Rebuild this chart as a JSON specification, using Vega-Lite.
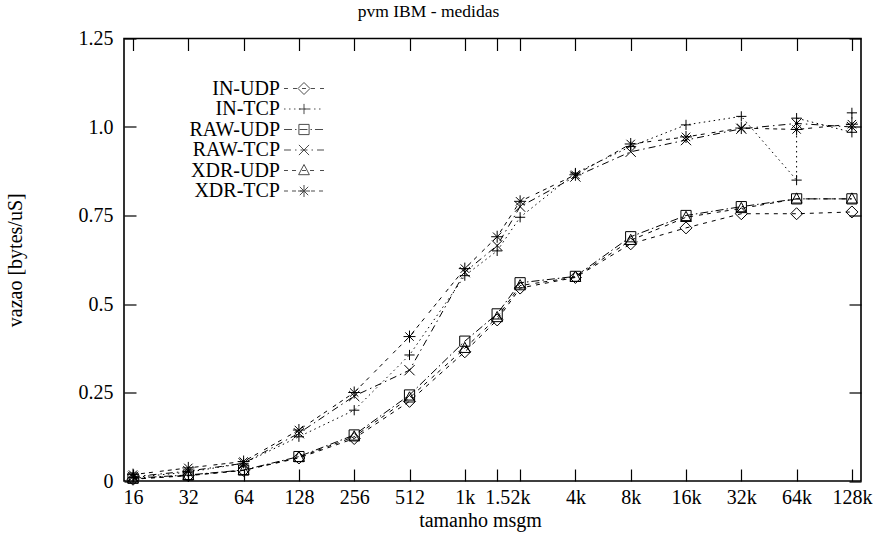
{
  "$schema": "https://vega.github.io/schema/vega-lite/v6.json",
  "width": 737,
  "height": 442.5,
  "autosize": {"type": "none"},
  "padding": {"left": 124, "top": 38.5, "right": 16, "bottom": 61},
  "background": "white",
  "config": {
    "view": {"stroke": "black", "strokeWidth": 1.6},
    "font": "Liberation Serif",
    "axis": {
      "labelFont": "Liberation Serif", "labelFontSize": 20, "labelColor": "black",
      "titleFont": "Liberation Serif", "titleFontSize": 20, "titleFontWeight": "normal", "titleColor": "black",
      "domain": false, "tickColor": "black", "tickWidth": 1.2, "tickSize": 12, "offset": -12,
      "grid": false, "labelOverlap": false, "labelFlush": false, "labelBound": false
    },
    "legend": {
      "labelFont": "Liberation Serif", "labelFontSize": 20, "labelColor": "black",
      "symbolStrokeColor": "black", "symbolFillColor": "transparent", "symbolStrokeWidth": 1, "symbolSize": 144
    }
  },
  "title": {"text": "pvm IBM - medidas", "font": "Liberation Serif", "fontSize": 17.5, "fontWeight": "normal", "color": "black", "dx": -64, "dy": 16, "offset": 10, "baseline": "alphabetic"},
  "data": {"values": [
    {"s": "IN-UDP", "i": 1, "x": 16, "y": 0.005}, {"s": "IN-UDP", "i": 2, "x": 32, "y": 0.015}, {"s": "IN-UDP", "i": 3, "x": 64, "y": 0.03}, {"s": "IN-UDP", "i": 4, "x": 128, "y": 0.065}, {"s": "IN-UDP", "i": 5, "x": 256, "y": 0.12}, {"s": "IN-UDP", "i": 6, "x": 512, "y": 0.225}, {"s": "IN-UDP", "i": 7, "x": 1024, "y": 0.365}, {"s": "IN-UDP", "i": 8, "x": 1536, "y": 0.455}, {"s": "IN-UDP", "i": 9, "x": 2048, "y": 0.545}, {"s": "IN-UDP", "i": 10, "x": 4096, "y": 0.575}, {"s": "IN-UDP", "i": 11, "x": 8192, "y": 0.67}, {"s": "IN-UDP", "i": 12, "x": 16384, "y": 0.715}, {"s": "IN-UDP", "i": 13, "x": 32768, "y": 0.755}, {"s": "IN-UDP", "i": 14, "x": 65536, "y": 0.755}, {"s": "IN-UDP", "i": 15, "x": 131072, "y": 0.76},
    {"s": "IN-TCP", "i": 1, "x": 16, "y": 0.01}, {"s": "IN-TCP", "i": 2, "x": 32, "y": 0.025}, {"s": "IN-TCP", "i": 3, "x": 64, "y": 0.05}, {"s": "IN-TCP", "i": 4, "x": 128, "y": 0.125}, {"s": "IN-TCP", "i": 5, "x": 256, "y": 0.2}, {"s": "IN-TCP", "i": 6, "x": 512, "y": 0.356}, {"s": "IN-TCP", "i": 7, "x": 1024, "y": 0.58}, {"s": "IN-TCP", "i": 8, "x": 1536, "y": 0.65}, {"s": "IN-TCP", "i": 9, "x": 2048, "y": 0.745}, {"s": "IN-TCP", "i": 10, "x": 4096, "y": 0.87}, {"s": "IN-TCP", "i": 11, "x": 8192, "y": 0.945}, {"s": "IN-TCP", "i": 12, "x": 16384, "y": 1.006}, {"s": "IN-TCP", "i": 13, "x": 32768, "y": 1.03}, {"s": "IN-TCP", "i": 14, "x": 65536, "y": 0.85}, {"s": "IN-TCP", "i": 15, "x": 65536, "y": 1.025}, {"s": "IN-TCP", "i": 16, "x": 131072, "y": 0.985}, {"s": "IN-TCP", "i": 17, "x": 131072, "y": 1.04},
    {"s": "RAW-UDP", "i": 1, "x": 16, "y": 0.008}, {"s": "RAW-UDP", "i": 2, "x": 32, "y": 0.017}, {"s": "RAW-UDP", "i": 3, "x": 64, "y": 0.031}, {"s": "RAW-UDP", "i": 4, "x": 128, "y": 0.069}, {"s": "RAW-UDP", "i": 5, "x": 256, "y": 0.13}, {"s": "RAW-UDP", "i": 6, "x": 512, "y": 0.243}, {"s": "RAW-UDP", "i": 7, "x": 1024, "y": 0.395}, {"s": "RAW-UDP", "i": 8, "x": 1536, "y": 0.472}, {"s": "RAW-UDP", "i": 9, "x": 2048, "y": 0.56}, {"s": "RAW-UDP", "i": 10, "x": 4096, "y": 0.578}, {"s": "RAW-UDP", "i": 11, "x": 8192, "y": 0.69}, {"s": "RAW-UDP", "i": 12, "x": 16384, "y": 0.75}, {"s": "RAW-UDP", "i": 13, "x": 32768, "y": 0.775}, {"s": "RAW-UDP", "i": 14, "x": 65536, "y": 0.797}, {"s": "RAW-UDP", "i": 15, "x": 131072, "y": 0.797},
    {"s": "RAW-TCP", "i": 1, "x": 16, "y": 0.012}, {"s": "RAW-TCP", "i": 2, "x": 32, "y": 0.028}, {"s": "RAW-TCP", "i": 3, "x": 64, "y": 0.05}, {"s": "RAW-TCP", "i": 4, "x": 128, "y": 0.135}, {"s": "RAW-TCP", "i": 5, "x": 256, "y": 0.24}, {"s": "RAW-TCP", "i": 6, "x": 512, "y": 0.313}, {"s": "RAW-TCP", "i": 7, "x": 1024, "y": 0.59}, {"s": "RAW-TCP", "i": 8, "x": 1536, "y": 0.665}, {"s": "RAW-TCP", "i": 9, "x": 2048, "y": 0.775}, {"s": "RAW-TCP", "i": 10, "x": 4096, "y": 0.86}, {"s": "RAW-TCP", "i": 11, "x": 8192, "y": 0.93}, {"s": "RAW-TCP", "i": 12, "x": 16384, "y": 0.963}, {"s": "RAW-TCP", "i": 13, "x": 32768, "y": 0.995}, {"s": "RAW-TCP", "i": 14, "x": 65536, "y": 1.01}, {"s": "RAW-TCP", "i": 15, "x": 131072, "y": 1.0},
    {"s": "XDR-UDP", "i": 1, "x": 16, "y": 0.006}, {"s": "XDR-UDP", "i": 2, "x": 32, "y": 0.016}, {"s": "XDR-UDP", "i": 3, "x": 64, "y": 0.03}, {"s": "XDR-UDP", "i": 4, "x": 128, "y": 0.067}, {"s": "XDR-UDP", "i": 5, "x": 256, "y": 0.125}, {"s": "XDR-UDP", "i": 6, "x": 512, "y": 0.235}, {"s": "XDR-UDP", "i": 7, "x": 1024, "y": 0.375}, {"s": "XDR-UDP", "i": 8, "x": 1536, "y": 0.462}, {"s": "XDR-UDP", "i": 9, "x": 2048, "y": 0.552}, {"s": "XDR-UDP", "i": 10, "x": 4096, "y": 0.576}, {"s": "XDR-UDP", "i": 11, "x": 8192, "y": 0.68}, {"s": "XDR-UDP", "i": 12, "x": 16384, "y": 0.745}, {"s": "XDR-UDP", "i": 13, "x": 32768, "y": 0.77}, {"s": "XDR-UDP", "i": 14, "x": 65536, "y": 0.797}, {"s": "XDR-UDP", "i": 15, "x": 131072, "y": 0.797},
    {"s": "XDR-TCP", "i": 1, "x": 16, "y": 0.018}, {"s": "XDR-TCP", "i": 2, "x": 32, "y": 0.037}, {"s": "XDR-TCP", "i": 3, "x": 64, "y": 0.055}, {"s": "XDR-TCP", "i": 4, "x": 128, "y": 0.144}, {"s": "XDR-TCP", "i": 5, "x": 256, "y": 0.25}, {"s": "XDR-TCP", "i": 6, "x": 512, "y": 0.408}, {"s": "XDR-TCP", "i": 7, "x": 1024, "y": 0.6}, {"s": "XDR-TCP", "i": 8, "x": 1536, "y": 0.69}, {"s": "XDR-TCP", "i": 9, "x": 2048, "y": 0.79}, {"s": "XDR-TCP", "i": 10, "x": 4096, "y": 0.865}, {"s": "XDR-TCP", "i": 11, "x": 8192, "y": 0.952}, {"s": "XDR-TCP", "i": 12, "x": 16384, "y": 0.972}, {"s": "XDR-TCP", "i": 13, "x": 32768, "y": 0.997}, {"s": "XDR-TCP", "i": 14, "x": 65536, "y": 0.993}, {"s": "XDR-TCP", "i": 15, "x": 131072, "y": 1.008}
  ]},
  "layer": [
    {
      "mark": {"type": "line", "color": "black", "strokeWidth": 1},
      "encoding": {
        "x": {"field": "x", "type": "quantitative",
          "scale": {"type": "log", "base": 2, "domain": [14.29, 146900], "nice": false},
          "axis": {"orient": "bottom", "values": [16, 32, 64, 128, 256, 512, 1024, 1536, 2048, 4096, 8192, 16384, 32768, 65536, 131072],
            "labelExpr": "datum.value == 1536 ? '1.5' : (datum.value >= 1024 ? (datum.value / 1024) + 'k' : '' + datum.value)",
            "labelPadding": 6, "title": "tamanho msgm", "titlePadding": 3, "titleX": 356}},
        "y": {"field": "y", "type": "quantitative",
          "scale": {"domain": [0, 1.25], "nice": false, "zero": false},
          "axis": {"orient": "left", "values": [0, 0.25, 0.5, 0.75, 1, 1.25],
            "labelExpr": "datum.value == 0 ? '0' : (datum.value == 0.5 ? '0.5' : (datum.value == 1 ? '1.0' : format(datum.value, '.2f')))",
            "labelPadding": 11, "title": "vazao [bytes/uS]", "titlePadding": 53}},
        "strokeDash": {"field": "s", "type": "nominal",
          "scale": {"domain": ["IN-UDP", "IN-TCP", "RAW-UDP", "RAW-TCP", "XDR-UDP", "XDR-TCP"],
            "range": [[4, 5], [1.5, 3.5], [8, 3, 1.5, 3], [7, 4, 1.5, 4], [4, 4, 4, 6], [4, 4, 4, 4, 4, 7]]},
          "legend": null},
        "order": {"field": "i", "type": "quantitative"}
      }
    },
    {
      "mark": {"type": "point", "filled": false, "color": "black", "strokeWidth": 1, "size": 144, "opacity": 1},
      "encoding": {
        "x": {"field": "x", "type": "quantitative",
          "axis": {"orient": "top", "values": [16, 32, 64, 128, 256, 512, 1024, 1536, 2048, 4096, 8192, 16384, 32768, 65536, 131072], "labels": false, "title": null}},
        "y": {"field": "y", "type": "quantitative",
          "axis": {"orient": "right", "values": [0, 0.25, 0.5, 0.75, 1, 1.25], "labels": false, "title": null}},
        "shape": {"field": "s", "type": "nominal",
          "scale": {"domain": ["IN-UDP", "IN-TCP", "RAW-UDP", "RAW-TCP", "XDR-UDP", "XDR-TCP"],
            "range": [
              "M0,-1L1,0L0,1L-1,0Z",
              "M-0.85,0H0.85M0,-0.85V0.85",
              "M-0.85,-0.85H0.85V0.85H-0.85Z",
              "M-0.85,-0.85L0.85,0.85M-0.85,0.85L0.85,-0.85",
              "M0,-1L0.9,0.7H-0.9Z",
              "M-1,0H1M0,-1V1M-0.7,-0.7L0.7,0.7M-0.7,0.7L0.7,-0.7"
            ]},
          "legend": null}
      }
    },
    {
      "transform": [{"filter": "datum.y < 0"}],
      "mark": {"type": "point", "filled": false, "color": "black", "strokeWidth": 1, "size": 144},
      "encoding": {
        "shape": {"field": "s", "type": "nominal",
          "scale": {"domain": ["IN-UDP", "IN-TCP", "RAW-UDP", "RAW-TCP", "XDR-UDP", "XDR-TCP"],
            "range": [
              "M-3.33,0H-2.67M-1.83,0H-1.17M-0.33,0H0.33M1.17,0H1.83M2.67,0H3.33M0,-1L1,0L0,1L-1,0Z",
              "M-3.33,0H-3.08M-2.5,0H-2.25M-1.67,0H-1.42M-0.83,0H-0.58M0,0H0.25M0.83,0H1.08M1.67,0H1.92M2.5,0H2.75M-0.85,0H0.85M0,-0.85V0.85",
              "M-3.33,0H-2M-1.5,0H-1.25M-0.75,0H0.58M1.08,0H1.33M1.83,0H3.17M-0.85,-0.85H0.85V0.85H-0.85Z",
              "M-3.33,0H-2.17M-1.5,0H-1.25M-0.58,0H0.58M1.25,0H1.5M2.17,0H3.33M-0.85,-0.85L0.85,0.85M-0.85,0.85L0.85,-0.85",
              "M-3.33,0H-2.67M-2,0H-1.33M-0.33,0H0.33M1,0H1.67M2.67,0H3.33M0,-1L0.9,0.7H-0.9Z",
              "M-3.33,0H-2.67M-2,0H-1.33M-0.67,0H0M1.17,0H1.83M2.5,0H3.17M-1,0H1M0,-1V1M-0.7,-0.7L0.7,0.7M-0.7,0.7L0.7,-0.7"
            ]},
          "legend": {"orient": "none", "legendX": 170, "legendY": 40, "title": null, "labelAlign": "right", "labelOffset": -34, "rowPadding": 0.5, "padding": 0, "symbolSize": 144}}
      }
    }
  ],
  "resolve": {"scale": {"shape": "independent"}, "axis": {"x": "independent", "y": "independent"}}
}
